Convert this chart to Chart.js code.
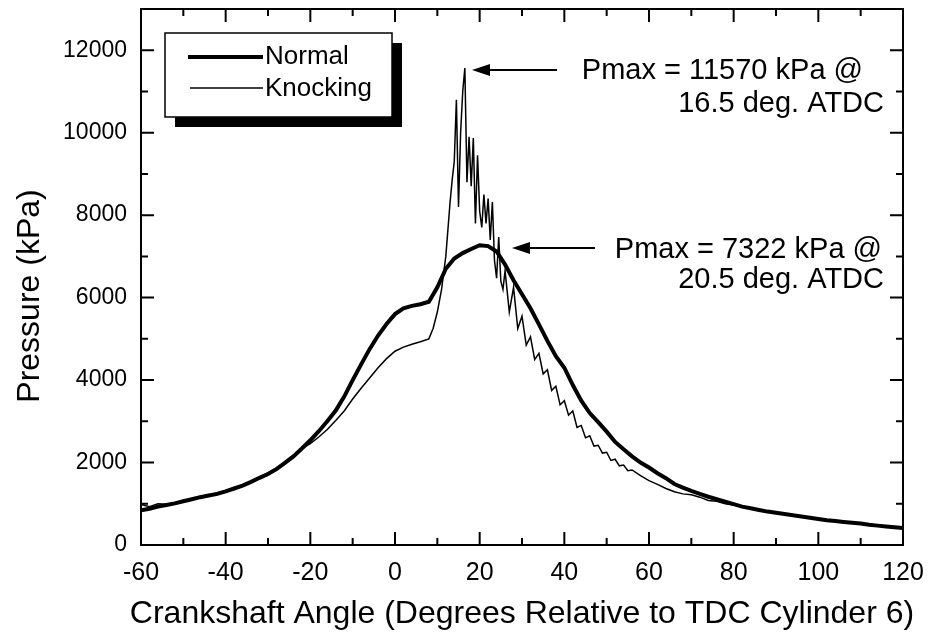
<!DOCTYPE html>
<html>
<head>
<meta charset="utf-8">
<script src="https://cdn.jsdelivr.net/npm/chart.js@4/dist/chart.umd.min.js"></script>
<style>
html,body{margin:0;padding:0;background:#fff;}
#wrap{width:928px;height:638px;position:relative;}
</style>
</head>
<body>
<div id="wrap"><canvas id="c" width="928" height="638"></canvas></div>
<script>
// ---- data ----
const xTicks = [-60, -40, -20, 0, 20, 40, 60, 80, 100, 120];
const yTicks = [0, 2000, 4000, 6000, 8000, 10000, 12000];

const normalAngle = [-60,-58,-56,-54,-52,-50,-48,-46,-44,-42,-40,-38,-36,-34,-32,-30,-28,-26,-24,-22,-20,-18,-16,-14,-12,-10,-8,-6,-4,-2,0,2,4,6,8,10,12,14,16,18,20,22,24,26,28,30,32,34,36,38,40,42,44,46,48,50,52,54,56,58,60,62,64,66,68,70,72,74,76,78,80,82,84,86,88,90,92,94,96,98,100,102,104,106,108,110,112,114,116,118,120];
const normalPressure = [840,880,930,970,1010,1060,1110,1160,1200,1240,1300,1370,1440,1530,1630,1720,1840,1990,2150,2340,2540,2760,3000,3260,3600,4000,4380,4750,5080,5360,5600,5740,5800,5840,5900,6250,6700,6950,7080,7180,7270,7250,7120,6800,6420,6080,5740,5350,4950,4580,4300,3880,3500,3200,2980,2750,2500,2320,2150,2000,1880,1740,1620,1480,1390,1310,1240,1170,1110,1050,990,930,890,850,810,780,750,720,690,660,630,600,580,560,540,520,490,470,450,430,410];

const knockAngle = [-60,-58,-56,-54,-52,-50,-48,-46,-44,-42,-40,-38,-36,-34,-32,-30,-28,-26,-24,-22,-20,-18,-16,-14,-12,-10,-8,-6,-4,-2,0,2,4,6,8,9,10,11,12,13,13.5,14,14.5,15,15.5,16,16.5,17,17.5,18,18.5,19,19.5,20,20.5,21,21.5,22,22.5,23,23.5,24,24.5,25,25.5,26,27,28,29,30,31,32,33,34,35,36,37,38,39,40,41,42,43,44,45,46,47,48,49,50,51,52,53,54,55,56,58,60,62,64,66,68,70,72,74,76,78,80,82,84,86,88,90,92,94,96,98,100,102,104,106,108,110,112,114,116,118,120];
const knockPressure = [980,930,1000,990,1030,1080,1100,1180,1210,1260,1320,1380,1460,1540,1650,1750,1870,2010,2170,2340,2460,2620,2800,3020,3250,3540,3800,4050,4300,4520,4700,4800,4870,4930,5000,5250,5650,6200,7000,8300,8850,9300,10800,8200,10000,11000,11570,8800,9900,8700,9870,7800,9450,8100,7700,8500,7800,8400,7400,8320,6900,6470,7470,6400,6200,6650,5650,6250,5250,5550,4850,5050,4500,4650,4150,4250,3750,3850,3400,3500,3150,3250,2850,2900,2600,2650,2400,2420,2230,2250,2050,2080,1920,1940,1800,1820,1680,1560,1470,1370,1290,1240,1220,1160,1080,1060,1000,970,930,880,860,810,790,740,730,690,670,620,610,570,570,530,530,490,480,440,440,400];

const seriesNames = ['Normal', 'Knocking'];
const annoKnock = ['Pmax = 11570 kPa @', '16.5 deg. ATDC'];
const annoNormal = ['Pmax = 7322 kPa @', '20.5 deg. ATDC'];
const xTitle = 'Crankshaft Angle (Degrees Relative to TDC Cylinder 6)';
const yTitle = 'Pressure (kPa)';

const FONT = '"Liberation Sans", Arial, Helvetica, sans-serif';

function toPts(xs, ys){ return xs.map((x,i)=>({x:x, y:ys[i]})); }

const decor = {
  id: 'decor',
  afterDraw(chart){
    const ctx = chart.ctx, a = chart.chartArea;
    const xs = chart.scales.x, ys = chart.scales.y;
    ctx.save();
    ctx.strokeStyle = '#000'; ctx.lineWidth = 2;
    ctx.strokeRect(a.left, a.top, a.right - a.left, a.bottom - a.top);
    // ticks inward on all sides
    const maj = 13, mn = 7;
    ctx.beginPath();
    for (let i = 0; i < xTicks.length; i++) {
      const v = xTicks[i];
      const p = xs.getPixelForValue(v);
      ctx.moveTo(p, a.bottom); ctx.lineTo(p, a.bottom - maj);
      ctx.moveTo(p, a.top); ctx.lineTo(p, a.top + maj);
      if (i < xTicks.length - 1) {
        const q = xs.getPixelForValue((v + xTicks[i+1]) / 2);
        ctx.moveTo(q, a.bottom); ctx.lineTo(q, a.bottom - mn);
        ctx.moveTo(q, a.top); ctx.lineTo(q, a.top + mn);
      }
    }
    for (let i = 0; i < yTicks.length; i++) {
      const v = yTicks[i];
      const p = ys.getPixelForValue(v);
      ctx.moveTo(a.left, p); ctx.lineTo(a.left + maj, p);
      ctx.moveTo(a.right, p); ctx.lineTo(a.right - maj, p);
      const q = ys.getPixelForValue(v + 1000);
      if (q > a.top + 2) {
        ctx.moveTo(a.left, q); ctx.lineTo(a.left + mn, q);
        ctx.moveTo(a.right, q); ctx.lineTo(a.right - mn, q);
      }
    }
    ctx.stroke();

    // legend with shadow
    const L = 165, T = 33, W = 227, H = 84;
    ctx.fillStyle = '#000';
    ctx.fillRect(L + 10, T + 10, W, H);
    ctx.fillStyle = '#fff';
    ctx.fillRect(L, T, W, H);
    ctx.lineWidth = 1.5;
    ctx.strokeRect(L, T, W, H);
    ctx.lineCap = 'butt';
    ctx.lineWidth = 4;
    ctx.beginPath(); ctx.moveTo(188, 57); ctx.lineTo(263, 57); ctx.stroke();
    ctx.lineWidth = 1.5;
    ctx.beginPath(); ctx.moveTo(190, 88); ctx.lineTo(263, 88); ctx.stroke();
    ctx.fillStyle = '#000';
    ctx.font = '26px ' + FONT;
    ctx.textAlign = 'left'; ctx.textBaseline = 'middle';
    ctx.fillText(seriesNames[0], 265, 57);
    ctx.fillText(seriesNames[1], 265, 89);

    // annotations
    ctx.font = '29px ' + FONT;
    ctx.textAlign = 'right';
    ctx.fillText(annoKnock[0], 863, 71);
    ctx.fillText(annoKnock[1], 884, 104);
    ctx.fillText(annoNormal[0], 882, 250);
    ctx.fillText(annoNormal[1], 884, 280);

    function arrow(x0, x1, y){
      ctx.lineWidth = 2;
      ctx.beginPath(); ctx.moveTo(x0, y); ctx.lineTo(x1 + 12, y); ctx.stroke();
      ctx.beginPath(); ctx.moveTo(x1, y); ctx.lineTo(x1 + 18, y - 6); ctx.lineTo(x1 + 18, y + 6); ctx.closePath(); ctx.fill();
    }
    arrow(557, 472, 70);
    arrow(595, 512, 248);

    // axis titles
    ctx.font = '32px ' + FONT;
    ctx.textAlign = 'center'; ctx.textBaseline = 'middle';
    ctx.fillText(xTitle, (a.left + a.right) / 2, 614);
    ctx.save();
    ctx.translate(30, 296);
    ctx.rotate(-Math.PI / 2);
    ctx.fillText(yTitle, 0, 0);
    ctx.restore();
    ctx.restore();
  }
};

function zeroPad(s){ s.paddingTop = 0; s.paddingBottom = 0; s.paddingLeft = 0; s.paddingRight = 0; }

new Chart(document.getElementById('c'), {
  type: 'line',
  data: {
    datasets: [
      { label: seriesNames[0], data: toPts(normalAngle, normalPressure), borderColor: '#000', borderWidth: 4, pointRadius: 0, tension: 0, fill: false },
      { label: seriesNames[1], data: toPts(knockAngle, knockPressure), borderColor: '#000', borderWidth: 1.5, pointRadius: 0, tension: 0, fill: false }
    ]
  },
  options: {
    responsive: false,
    animation: false,
    devicePixelRatio: 1,
    layout: { padding: { top: 9, right: 25, left: 0, bottom: 0 } },
    plugins: { legend: { display: false }, tooltip: { enabled: false } },
    scales: {
      x: {
        type: 'linear', min: -60, max: 120,
        grid: { display: false, drawTicks: false },
        border: { display: false },
        afterFit(s){ s.height = 93; zeroPad(s); },
        afterBuildTicks(s){ s.ticks = xTicks.map(v => ({value: v})); },
        ticks: { padding: 13, color: '#000', font: { family: FONT, size: 25 }, maxRotation: 0, autoSkip: false }
      },
      y: {
        type: 'linear', min: 0, max: 13000,
        grid: { display: false, drawTicks: false },
        border: { display: false },
        afterFit(s){ s.width = 141; zeroPad(s); },
        afterBuildTicks(s){ s.ticks = yTicks.map(v => ({value: v})); },
        ticks: { padding: 14, color: '#000', font: { family: FONT, size: 23 }, callback: v => String(v) }
      }
    }
  },
  plugins: [decor]
});
</script>
</body>
</html>
